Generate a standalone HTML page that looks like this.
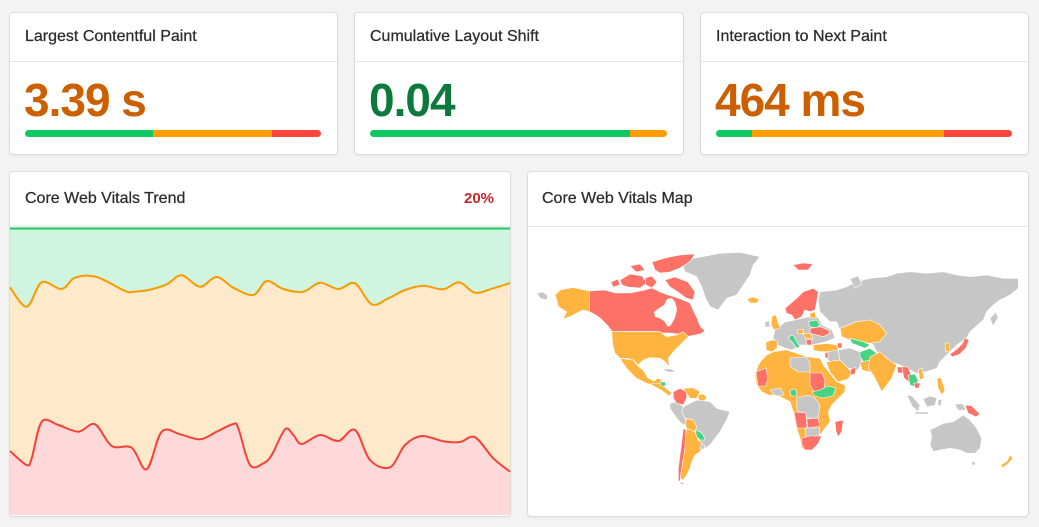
<!DOCTYPE html>
<html><head><meta charset="utf-8"><style>
*{margin:0;padding:0;box-sizing:border-box}
html,body{width:1039px;height:527px;overflow:hidden;background:#f3f3f3;font-family:"Liberation Sans",Arial,sans-serif}
.card{position:absolute;background:#fff;border:1px solid #dcdcdc;border-radius:4px;box-shadow:0 1px 2px rgba(0,0,0,.05)}
.hdr{position:absolute;left:0;right:0;top:0;border-bottom:1px solid #e6e6e6}
.t{position:absolute;font-size:16px;line-height:16px;color:#2b2b2b;white-space:nowrap;-webkit-text-stroke:0.25px #2b2b2b}
.v{position:absolute;font-size:46px;line-height:46px;font-weight:bold;letter-spacing:-1px;white-space:nowrap}
.bar{position:absolute;height:7px;border-radius:4px;overflow:hidden;display:flex}
.bar div{height:100%}
svg{position:absolute;left:0;top:0}
</style></head><body>

<div class="card" style="left:9px;top:12px;width:329px;height:143px"><div class="hdr" style="height:49px"></div></div>
<div class="card" style="left:354px;top:12px;width:330px;height:143px"><div class="hdr" style="height:49px"></div></div>
<div class="card" style="left:700px;top:12px;width:329px;height:143px"><div class="hdr" style="height:49px"></div></div>

<div class="t" style="left:25px;top:28.5px">Largest Contentful Paint</div>
<div class="t" style="left:370px;top:28.5px">Cumulative Layout Shift</div>
<div class="t" style="left:716px;top:28.5px">Interaction to Next Paint</div>

<div class="v" style="left:24px;top:77px;color:#cc5f00">3.39 s</div>
<div class="v" style="left:369px;top:77px;color:#0b7a3c">0.04</div>
<div class="v" style="left:715px;top:77px;color:#cc5f00">464 ms</div>

<div class="bar" style="left:25px;top:130px;width:296px"><div style="width:128px;background:#0fc864"></div><div style="width:119px;background:#ff9c00"></div><div style="flex:1;background:#ff463c"></div></div>
<div class="bar" style="left:370px;top:130px;width:297px"><div style="width:260px;background:#0fc864"></div><div style="flex:1;background:#ff9c00"></div></div>
<div class="bar" style="left:716px;top:130px;width:296px"><div style="width:36px;background:#0fc864"></div><div style="width:192px;background:#ff9c00"></div><div style="flex:1;background:#ff463c"></div></div>

<div class="card" style="left:9px;top:171px;width:502px;height:346px;overflow:hidden"><div class="hdr" style="height:55px"></div></div>
<div class="card" style="left:527px;top:171px;width:502px;height:346px"><div class="hdr" style="height:55px"></div></div>

<div class="t" style="left:25px;top:190.5px">Core Web Vitals Trend</div>
<div class="t" style="left:464px;top:190.5px;color:#c62828;-webkit-text-stroke:0;font-weight:bold;font-size:15px">20%</div>
<div class="t" style="left:542px;top:190.5px">Core Web Vitals Map</div>

<svg width="1039" height="527" viewBox="0 0 1039 527">
<!-- Trend chart -->
<rect x="10" y="228" width="500" height="287" fill="#cff4e0"/>
<path id="oa" fill="#fee9ca" d="M10,287.3 L26.7,306.7 L41.7,282.3 L61.7,289 L75,277.7 L96.7,277 L125,291 L133.3,291.7 L148.3,290 L166.7,284.3 L181.7,275.3 L200,286.7 L216.7,277 L233.3,287.7 L253.3,295 L266.7,281 L283.3,289 L303.3,291.7 L320,282.7 L338.3,289 L355,283.3 L371.7,304.3 L388.3,298.3 L405,290 L423.3,285.7 L443.3,289.3 L459.3,282.3 L475,292.7 L493.3,288.3 L510,283 L510,515 L10,515Z"/>
<path id="ra" fill="#ffd9d9" d="M10,451 L26.7,465 L31.7,458.3 L41.7,421.7 L58.3,425 L78.3,431.7 L95,424.3 L111.7,446 L131.7,447.7 L146.7,469.3 L161.7,431.7 L180,434.3 L200,439.3 L216.7,431.7 L233.3,424 L238.3,428.3 L250,465 L263.3,463.3 L271.7,455 L285,429.3 L293.3,435 L301.7,444 L320,435 L338.3,441 L355,430 L370,460 L390,467.3 L405,445 L421.7,436 L443.3,441.3 L460,442 L475,437.3 L493.3,458.3 L510,471.7 L510,515 L10,515Z"/>
<line x1="10" y1="228.5" x2="510" y2="228.5" stroke="#22c55e" stroke-width="2"/>
<path id="ol" fill="none" stroke="#f59c00" stroke-width="2" stroke-linejoin="round" d="M10,287.3 L26.7,306.7 L41.7,282.3 L61.7,289 L75,277.7 L96.7,277 L125,291 L133.3,291.7 L148.3,290 L166.7,284.3 L181.7,275.3 L200,286.7 L216.7,277 L233.3,287.7 L253.3,295 L266.7,281 L283.3,289 L303.3,291.7 L320,282.7 L338.3,289 L355,283.3 L371.7,304.3 L388.3,298.3 L405,290 L423.3,285.7 L443.3,289.3 L459.3,282.3 L475,292.7 L493.3,288.3 L510,283"/>
<path id="rl" fill="none" stroke="#f44336" stroke-width="2" stroke-linejoin="round" d="M10,451 L26.7,465 L31.7,458.3 L41.7,421.7 L58.3,425 L78.3,431.7 L95,424.3 L111.7,446 L131.7,447.7 L146.7,469.3 L161.7,431.7 L180,434.3 L200,439.3 L216.7,431.7 L233.3,424 L238.3,428.3 L250,465 L263.3,463.3 L271.7,455 L285,429.3 L293.3,435 L301.7,444 L320,435 L338.3,441 L355,430 L370,460 L390,467.3 L405,445 L421.7,436 L443.3,441.3 L460,442 L475,437.3 L493.3,458.3 L510,471.7"/>

<!-- Map -->
<g stroke="#fff" stroke-width="0.6" stroke-linejoin="round">
<polygon fill="#c6c6c6" points="537,293 543,292 548,296 546,300 540,298"/>
<polygon fill="#feb43f" points="560,290 573,287.5 589.3,291 589.3,311.7 583,310 577,313 570,316.7 563,319 566.7,311.7 558.3,306.7 556.7,300 555,295"/>
<polygon fill="#fd7167" points="589.3,291 605,290 615,293 630,293 645,290 652,288 660,292 668,295 675,297 683,300 690,303 693,310 697,318 700,326 705,331 700,334 690,336 683,337 678,334 670,333 663,333 657,331.5 612,331.5 608,326 600,318 594,314 589.3,311.7"/>
<polygon fill="#fff" stroke="none" points="654,312 659,308 664,305 667,299 672,298 675,302 677,309 675,318 671,325 668,327 664,321 659,318 655,317"/>
<polygon fill="#fd7167" points="652,262 665,258 680,255 695,254 690,262 680,268 670,272 660,273 655,270"/>
<polygon fill="#fd7167" points="620,280 630,274 642,276 647,283 640,288 628,287 622,285"/>
<polygon fill="#fd7167" points="611,282 618,279 620,285 613,287"/>
<polygon fill="#fd7167" points="645,278 652,276 657,282 652,288 646,285"/>
<polygon fill="#fd7167" points="665,280 675,277 688,282 695,292 693,300 686,298 678,292 670,287"/>
<polygon fill="#fd7167" points="630,266 640,264 645,270 636,272"/>
<polygon fill="#c6c6c6" points="683.3,266.7 693.3,258.3 720,253.3 740,252.3 760,256.7 753.3,265 750,275 743.3,285 736.7,295 726.7,298.3 718.3,310 710,306.7 705,296.7 701.7,286.7 696.7,276.7 685,271.7"/>
<polygon fill="#feb43f" points="747,299 753,297 759,299 757,303 750,303"/>
<polygon fill="#feb43f" points="611.7,331.7 660,331.7 666.7,336.7 676.7,335 683.3,331.7 688.3,336.7 680,345 673.3,351.7 668.3,358.3 669.3,366.7 665,361.7 660,358.3 650,357.7 643.3,360 638.3,365 633.3,360 626.7,358.3 620,358.3 615,353.3 612.7,345"/>
<polygon fill="#feb43f" points="620,358.3 633,360 638,366 643,370 648,378 654,381 658,378 662,380 660,385 654,386 646,383 636,378 628,370 622,362"/>
<polygon fill="#feb43f" points="650,384 660,383 667,389 672,393 669,396 661,390"/>
<polygon fill="#46d382" points="660,382 665,382 666,386 661,386"/>
<polygon fill="#c6c6c6" points="662,369 671,369 676,372 668,372"/>
<polygon fill="#c6c6c6" points="683.3,406.7 696.7,400 710,401.7 716.7,408.3 730,411.7 726.7,420 720,431.7 715,438.3 710,445 705,448.3 700,443.3 698.3,435 695,430 690,421.7 685,418.3 681.7,411.7"/>
<polygon fill="#c6c6c6" points="670,403.3 676.7,401.7 683.3,406.7 681.7,411.7 685,418.3 686.7,423.3 683.3,425 678.3,420 673.3,413.3 670,408.3"/>
<polygon fill="#fd7167" points="673.3,391.7 680,388.3 686.7,391.7 686.7,398.3 683.3,405 676.7,403.3 673.3,398.3"/>
<polygon fill="#feb43f" points="683.3,388.3 693.3,387.7 700,391.7 696.7,398.3 690,398.3 686.7,393.3"/>
<polygon fill="#feb43f" points="698,395 703,394 707,397 704,401 699,400"/>
<polygon fill="#feb43f" points="686.7,418.3 693.3,420 696.7,426.7 695,431.7 690,433.3 686.7,428.3 685,423.3"/>
<polygon fill="#feb43f" points="686.7,428.3 695,431.7 698.3,440 703.3,445 700,451.7 695,455 691.7,461.7 690,468.3 686.7,475 683.3,480 680,478.3 681.7,468.3 683.3,458.3 684,448.3 685,438.3"/>
<polygon fill="#46d382" points="695,430 700,431.7 703.3,435 705,440 700,440 696.7,436.7"/>
<polygon fill="#c6c6c6" points="700.7,445 705,445 703.3,450 700,448.3"/>
<polygon fill="#fd7167" points="683.3,428.3 686,430 685,448.3 682.7,461.7 680.7,475 680,481.7 685,483.3 681.7,484.3 678.3,480 678.3,468.3 680,455 681.7,441.7"/>
<polygon fill="#c6c6c6" points="820,291.7 836.7,290 846.7,286.7 856.7,281.7 870,278.3 886.7,276.7 896.7,273.3 910,271.7 926.7,273.3 943.3,271.7 956.7,275 970,276.7 986.7,275 1003.3,278.3 1018.3,278.3 1018.3,288.3 1010,295 1000,300 993.3,305 986.7,311.7 983.3,320 970,331.7 966.7,338 956.7,345 950,351.7 940,361.7 936.7,368.3 926.7,371.7 916.7,373.3 906.7,368.3 900,365 890,361.7 883.3,355 876.7,351.7 873.3,345 870,343 860,341.7 843.3,338 836.7,321.7 830,321.7 825,316.7 820,311.7 818.3,301.7"/>
<polygon fill="#c6c6c6" points="850,279 858,276 862,284 855,288"/>
<polygon fill="#c6c6c6" points="990,318 996,312 998,318 993,326"/>
<polygon fill="#fd7167" points="785,308.3 796.7,298.3 803.3,291.7 813.3,288.3 818.3,291.7 816.7,301.7 815,310 810,311.7 805,310 801.7,316.7 795,320 791.7,315 786.7,313.3"/>
<polygon fill="#fd7167" points="793,265 803,263 813,264 808,270 798,270"/>
<polygon fill="#c6c6c6" points="775,330 785,322 795,320 808,317 818,317 822,325 832,330 835,338 825,342 812,345 800,345 792,350 785,348 778,345 773,338"/>
<polygon fill="#feb43f" points="772,316 776,315 778,322 780,328 774,330 771,325"/>
<polygon fill="#c6c6c6" points="765,322 769,321 770,327 765,327"/>
<polygon fill="#feb43f" points="766,342 772,340 778,341 777,348 772,352 766,350"/>
<polygon fill="#feb43f" points="810,313 815,312 816,318 810,318"/>
<polygon fill="#46d382" points="808.3,321.7 816.7,320 820,325 816.7,328.3 810,326.7"/>
<polygon fill="#fd7167" points="810,328.3 820,326.7 828.3,330 830,333.3 823.3,336.7 816.7,335 810,333.3"/>
<polygon fill="#feb43f" points="803,334 810,333 813,338 806,339"/>
<polygon fill="#fd7167" points="806,340 811,339 812,345 807,345"/>
<polygon fill="#46d382" points="788.3,336.7 793.3,335 796.7,341.7 800,346.7 796.7,348.3 793.3,343.3 790,340"/>
<polygon fill="#feb43f" points="797,330 803,329 804,333 798,334"/>
<polygon fill="#feb43f" points="813.3,345 826.7,343.3 836.7,345 838.3,350 830,351.7 820,351.7 813.3,350"/>
<polygon fill="#fd7167" points="837,343 842,343 842,348 838,348"/>
<polygon fill="#c6c6c6" points="826,352 838,350 840,360 830,362 826,357"/>
<polygon fill="#fd7167" points="825,353 828,352 828,358 825,358"/>
<polygon fill="#c6c6c6" points="838,350 850,348 860,352 862,362 858,370 848,368 840,360"/>
<polygon fill="#feb43f" points="826,362 840,360 848,368 853,373 848,379 838,382 830,372"/>
<polygon fill="#fd7167" points="851,369 856,367 855,374 850,375"/>
<polygon fill="#feb43f" points="840,328.3 856.7,321.7 870,320 880,325 886.7,333.3 880,341.7 870,343.3 860,341.7 850,340 841.7,336.7"/>
<polygon fill="#46d382" points="850,338.3 863.3,341.7 870,345 865,348.3 856.7,345 851.7,343.3"/>
<polygon fill="#46d382" points="860,351.7 870,348.3 876.7,353.3 871.7,360 863.3,361.7 860,356.7"/>
<polygon fill="#feb43f" points="860,362 871.7,360 874,366 870,372 862,370"/>
<polygon fill="#feb43f" points="870,357 880,351.7 886.7,358.3 896.7,365 891.7,378.3 886.7,385 881.7,391.7 878.3,385 873.3,375 868.3,368.3"/>
<polygon fill="#fd7167" points="897,367 902,367 903,373 898,373"/>
<polygon fill="#fd7167" points="901.7,366.7 908,367 911.7,376 909,382 904,378"/>
<polygon fill="#46d382" points="908,375 915,374 918,380 916,387 910,385"/>
<polygon fill="#fd7167" points="914,383 920,383 919,388 915,388"/>
<polygon fill="#feb43f" points="918,370 922,368 924,378 920,380"/>
<polygon fill="#c6c6c6" points="906.7,395 912,396 920,405 918,411.7 912,406"/>
<polygon fill="#c6c6c6" points="923,399 930,396 937,398 935,405 927,407"/>
<polygon fill="#c6c6c6" points="938,400 942,399 941,406 938,405"/>
<polygon fill="#c6c6c6" points="915,412 928,412 928,414 915,414"/>
<polygon fill="#feb43f" points="937,378 941,378 945,390 942,395 938,388"/>
<polygon fill="#fd7167" points="965,405 972,406 980,414 976,417 968,413"/>
<polygon fill="#c6c6c6" points="955,404 963,404 966,410 958,410"/>
<polygon fill="#fd7167" points="965,338 969,340 966,348 960,354 952,357 950,354 957,349 962,344"/>
<polygon fill="#feb43f" points="945,343 949,343 950,351 946,352"/>
<polygon fill="#c6c6c6" points="930,430 943.3,423.3 953.3,421.7 963.3,415 970,420 976.7,428.3 981.7,438.3 980,448.3 975,453.3 966.7,453.3 960,450 950,448.3 940,450 933.3,451.7 930,445 931.7,436.7"/>
<polygon fill="#c6c6c6" points="971.7,461.7 975,461.7 975,465 972,465"/>
<polygon fill="#feb43f" points="1010,455 1013,458 1008,464 1002,468 1001,465 1007,461"/>
<polygon fill="#feb43f" points="766.7,355 773.3,351.7 786.7,350 796.7,353.3 806.7,356.7 820,358.3 823.3,365 830,373.3 836.7,381.7 845,385 845,391.7 838.3,398.3 831.7,405 828.3,411.7 830,421.7 825,428.3 820,435 816.7,441.7 813.3,446.7 806.7,450 801.7,448.3 800,438.3 796.7,428.3 795,421.7 793.3,411.7 790,401.7 783.3,398.3 776.7,395 768.3,395 761.7,391.7 756.7,385 755,375 758.3,365 761.7,360"/>
<polygon fill="#c6c6c6" points="790,358 806,357 810,362 810,372 798,372 790,366"/>
<polygon fill="#fd7167" points="756,372 766,368 768,378 766,386 758,386"/>
<polygon fill="#fd7167" points="810,373 822,373 825,380 824,390 814,392 810,385"/>
<polygon fill="#46d382" points="812,392 820,390 828,386 836,388 833,396 822,398 815,396"/>
<polygon fill="#c6c6c6" points="796.7,398 808,395 815,398 820,405 818,418 806,418 797,410"/>
<polygon fill="#46d382" points="790,390 796,389 797,396 791,396"/>
<polygon fill="#c6c6c6" points="770,390 780,388 784,395 776,396"/>
<polygon fill="#fd7167" points="794,412 806,413 807,428 797,428"/>
<polygon fill="#fd7167" points="806.7,419 818,418 820,426 808,428"/>
<polygon fill="#c6c6c6" points="805,428 820,428 819,437 806,438"/>
<polygon fill="#fd7167" points="801.7,438 810,436 821.7,436 818,444 812,450 805,450 802,445"/>
<polygon fill="#fd7167" points="835,421.7 843.3,420 841.7,431.7 838.3,436.7 836,431.7"/>
</g>
</svg>
<script>
(function(){
var O=[[10,287.3],[26.7,306.7],[41.7,282.3],[61.7,289],[75,277.7],[96.7,277],[125,291],[133.3,291.7],[148.3,290],[166.7,284.3],[181.7,275.3],[200,286.7],[216.7,277],[233.3,287.7],[253.3,295],[266.7,281],[283.3,289],[303.3,291.7],[320,282.7],[338.3,289],[355,283.3],[371.7,304.3],[388.3,298.3],[405,290],[423.3,285.7],[443.3,289.3],[459.3,282.3],[475,292.7],[493.3,288.3],[510,283]];
var R=[[10,451],[26.7,465],[31.7,458.3],[41.7,421.7],[58.3,425],[78.3,431.7],[95,424.3],[111.7,446],[131.7,447.7],[146.7,469.3],[161.7,431.7],[180,434.3],[200,439.3],[216.7,431.7],[233.3,424],[238.3,428.3],[250,465],[263.3,463.3],[271.7,455],[285,429.3],[293.3,435],[301.7,444],[320,435],[338.3,441],[355,430],[370,460],[390,467.3],[405,445],[421.7,436],[443.3,441.3],[460,442],[475,437.3],[493.3,458.3],[510,471.7]];
function sm(p){var d="M"+p[0][0]+","+p[0][1];for(var i=0;i<p.length-1;i++){var a=p[i-1]||p[i],b=p[i],c=p[i+1],e=p[i+2]||c;var t=0.18*2.2;var c1x=b[0]+(c[0]-a[0])/6,c1y=b[1]+(c[1]-a[1])/6,c2x=c[0]-(e[0]-b[0])/6,c2y=c[1]-(e[1]-b[1])/6;d+=" C"+c1x.toFixed(1)+","+c1y.toFixed(1)+" "+c2x.toFixed(1)+","+c2y.toFixed(1)+" "+c[0]+","+c[1];}return d;}
try{
document.getElementById("ol").setAttribute("d",sm(O));
document.getElementById("rl").setAttribute("d",sm(R));
document.getElementById("oa").setAttribute("d",sm(O)+" L510,515 L10,515Z");
document.getElementById("ra").setAttribute("d",sm(R)+" L510,515 L10,515Z");
}catch(e){}
})();
</script>
</body></html>
